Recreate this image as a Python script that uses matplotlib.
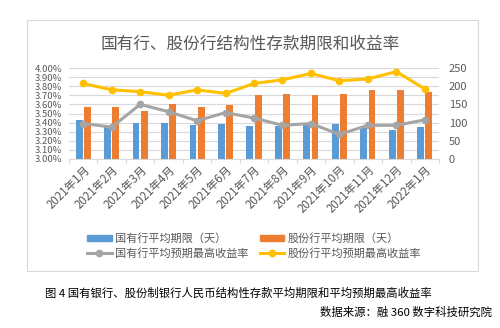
import matplotlib
matplotlib.use("Agg")
import matplotlib.pyplot as plt
import numpy as np
from matplotlib.patches import Rectangle
from matplotlib.lines import Line2D
from matplotlib.ticker import FuncFormatter

plt.rcParams['font.family'] = ['Noto Sans CJK SC', 'DejaVu Sans']

# data
months = ["2021年1月", "2021年2月", "2021年3月", "2021年4月", "2021年5月", "2021年6月",
          "2021年7月", "2021年8月", "2021年9月", "2021年10月", "2021年11月", "2021年12月",
          "2022年1月"]
soe_term = [108, 87, 98, 100, 93, 97, 92, 90, 94, 97, 85, 80, 87]          # days
jsb_term = [144, 144, 133, 152, 144, 149, 175, 178, 175, 178, 190, 190, 185]  # days
soe_rate = [3.39, 3.35, 3.60, 3.52, 3.42, 3.51, 3.45, 3.37, 3.39, 3.27, 3.37, 3.37, 3.43]  # %
jsb_rate = [3.83, 3.76, 3.74, 3.70, 3.76, 3.72, 3.83, 3.87, 3.94, 3.86, 3.88, 3.96, 3.77]  # %

BLUE = "#5B9BD5"
ORANGE = "#ED7D31"
GRAY = "#A5A5A5"
YELLOW = "#FFC000"
TXT = "#595959"

fig = plt.figure(figsize=(5.0, 3.28), dpi=100)
fig.patch.set_facecolor("white")

# outer chart frame
fig.patches.append(Rectangle((27 / 500, 1 - 271 / 328), 451 / 500, 251 / 328,
                             transform=fig.transFigure, fill=False,
                             edgecolor="#D9D9D9", linewidth=0.8))

ax = fig.add_axes([69 / 500, 1 - 159 / 328, 370 / 500, 91 / 328])
ax2 = ax.twinx()   # lines go on top of the bars
x = np.arange(len(months))

# bars -> days, right axis
ax.bar(x - 0.145, soe_term, width=0.24, color=BLUE, zorder=2)
ax.bar(x + 0.145, jsb_term, width=0.24, color=ORANGE, zorder=2)
ax.set_ylim(0, 250)
ax.set_xlim(-0.5, len(months) - 0.5)
ax.yaxis.tick_right()
ax.set_yticks(range(0, 251, 50))
ax.tick_params(axis="y", length=0, pad=7, labelsize=8, colors=TXT)
for yv in range(25, 251, 25):
    ax.axhline(yv, color="#D9D9D9", linewidth=0.8, zorder=0)

ax.set_xticks(x)
ax.set_xticklabels(months, rotation=45, ha="right", rotation_mode="anchor",
                   fontsize=8.3, color=TXT)
ax.set_xticks(np.arange(-0.5, len(months), 1), minor=True)
ax.tick_params(axis="x", which="major", length=0, pad=3)
ax.tick_params(axis="x", which="minor", length=3, color="#D9D9D9", width=0.8)
for s in ["top", "left", "right"]:
    ax.spines[s].set_visible(False)
ax.spines["bottom"].set_color("#D9D9D9")

# lines -> rates, left axis
ax2.plot(x, soe_rate, color=GRAY, linewidth=2.2, marker="o", markersize=4.5)
ax2.plot(x, jsb_rate, color=YELLOW, linewidth=2.2, marker="o", markersize=4.5)
ax2.set_ylim(3.0, 4.0)
ax2.yaxis.tick_left()
ax2.set_yticks(np.round(np.arange(3.0, 4.001, 0.1), 2))
ax2.yaxis.set_major_formatter(FuncFormatter(lambda v, p: f"{v:.2f}%"))
ax2.tick_params(axis="y", length=0, pad=5, labelsize=6.8, colors=TXT)
for s in ax2.spines.values():
    s.set_visible(False)

fig.text(0.5, 1 - 44 / 328, "国有行、股份行结构性存款期限和收益率", ha="center", va="center",
         fontsize=12, color=TXT)

handles = [
    Rectangle((0, 0), 1, 1, color=BLUE),
    Line2D([], [], color=GRAY, linewidth=2.2, marker="o", markersize=4.5),
    Rectangle((0, 0), 1, 1, color=ORANGE),
    Line2D([], [], color=YELLOW, linewidth=2.2, marker="o", markersize=4.5),
]
labels = ["国有行平均期限（天）", "国有行平均预期最高收益率",
          "股份行平均期限（天）", "股份行平均预期最高收益率"]
leg = fig.legend(handles, labels, ncol=2, loc="center", bbox_to_anchor=(254 / 500, 1 - 246 / 328),
                 frameon=False, fontsize=8, handlelength=2.2, handleheight=0.45,
                 columnspacing=1.0, handletextpad=0.3, labelspacing=0.35)
for t in leg.get_texts():
    t.set_color(TXT)

fig.text(45 / 500, 1 - 293 / 328, "图 4 国有银行、股份制银行人民币结构性存款平均期限和平均预期最高收益率",
         ha="left", va="center", fontsize=8.2, color="black")
fig.text(492 / 500, 1 - 312 / 328, "数据来源：融 360 数字科技研究院",
         ha="right", va="center", fontsize=8.2, color="black")

fig.savefig("out.png", dpi=100)
